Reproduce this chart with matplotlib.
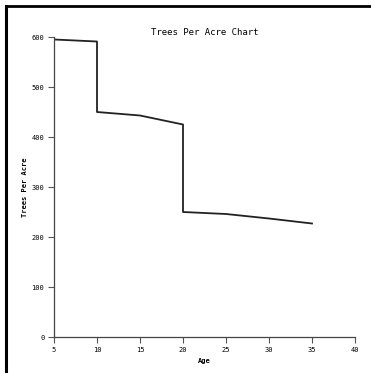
import matplotlib.pyplot as plt
from matplotlib.lines import Line2D

# step data for trees per acre by age
age = [5, 10, 10, 15, 20, 20, 25, 30, 35]
trees = [595, 591, 450, 443, 425, 250, 246, 237, 227]

x_ticks = [5, 10, 15, 20, 25, 30, 35, 40]
y_ticks = [0, 100, 200, 300, 400, 500, 600]

plt.rcParams['font.family'] = 'DejaVu Sans Mono'

fig = plt.figure(figsize=(3.71, 3.73), dpi=100)
ax = fig.add_axes([54 / 371, 1 - 337 / 373, 301 / 371, 300 / 373])

ax.plot(age, trees, color='#222222', linewidth=1.3)

ax.set_xlim(5, 40)
ax.set_ylim(0, 600)
ax.set_xticks(x_ticks)
ax.set_yticks(y_ticks)
ax.tick_params(labelsize=5, length=4, width=0.8, color='#555555', pad=3)

for s in ['top', 'right']:
    ax.spines[s].set_visible(False)
for s in ['left', 'bottom']:
    ax.spines[s].set_color('#444444')
    ax.spines[s].set_linewidth(0.9)

ax.set_title('Trees Per Acre Chart', fontsize=6.5, pad=1)
ax.set_xlabel('Age', fontsize=5, fontweight='bold', labelpad=4)
ax.set_ylabel('Trees Per Acre', fontsize=5, fontweight='bold')
ax.yaxis.set_label_coords(-0.085, 0.5)

# frame lines on the left and top of the picture
fig.add_artist(Line2D([6 / 371, 6 / 371], [0, 1 - 6 / 373], color='black', linewidth=2.2, transform=fig.transFigure))
fig.add_artist(Line2D([6 / 371, 1], [1 - 6 / 373, 1 - 6 / 373], color='black', linewidth=2.0, transform=fig.transFigure))

plt.savefig('out.png', dpi=100)
